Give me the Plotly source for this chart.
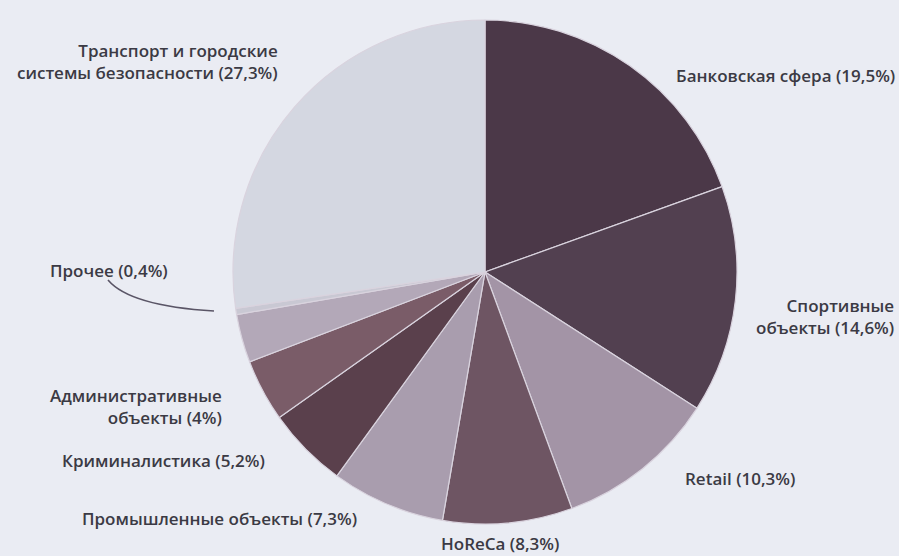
import plotly.graph_objects as go

W, H = 899, 556

# Data (clockwise from 12 o'clock)
categories = [
    "Банковская сфера",
    "Спортивные объекты",
    "Retail",
    "HoReCa",
    "Промышленные объекты",
    "Криминалистика",
    "Административные объекты",
    "Без подписи",
    "Прочее",
    "Транспорт и городские системы безопасности",
]
shares = [19.5, 14.6, 10.3, 8.3, 7.3, 5.2, 4.0, 3.1, 0.4, 27.3]
colors = ["#4b3848", "#524050", "#a394a6", "#6e5563", "#a99dae",
          "#5a404c", "#7a5c68", "#b3a8b8", "#c9c8d3", "#d4d7e1"]

label_texts = [
    "Банковская сфера (19,5%)",
    "Спортивные<br>объекты (14,6%)",
    "Retail (10,3%)",
    "HoReCa (8,3%)",
    "Промышленные объекты (7,3%)",
    "Криминалистика (5,2%)",
    "Административные<br>объекты (4%)",
    None,
    "Прочее (0,4%)",
    "Транспорт и городские<br>системы безопасности (27,3%)",
]
# label anchor positions in pixels (x, y, xanchor, align)
label_pos = [
    (674, 75, "left", "left"),
    (896, 316, "right", "right"),
    (683, 478, "left", "left"),
    (500, 543, "center", "center"),
    (80, 518, "left", "left"),
    (60, 460, "left", "left"),
    (224, 406, "right", "right"),
    None,
    (48, 270, "left", "left"),
    (280, 62, "right", "right"),
]

def px(x):
    return x / W

def py(y):
    return 1 - y / H

cx, cy, r = 485, 272, 252

fig = go.Figure(go.Pie(
    labels=categories,
    values=shares,
    sort=False,
    direction="clockwise",
    rotation=0,
    textinfo="none",
    marker=dict(colors=colors, line=dict(color="#d9d3de", width=1.2)),
    domain=dict(x=[px(cx - r), px(cx + r)], y=[py(cy + r), py(cy - r)]),
    showlegend=False,
))

font = dict(family="Open Sans, DejaVu Sans, sans-serif", size=17, color="#3b3a44", weight=600)
for txt, pos in zip(label_texts, label_pos):
    if txt is None:
        continue
    x, y, xa, al = pos
    fig.add_annotation(x=px(x), y=py(y), xref="paper", yref="paper",
                       text=txt, showarrow=False, xanchor=xa, yanchor="middle",
                       align=al, font=font)

# curved leader line for "Прочее"
fig.add_shape(type="path", xref="paper", yref="paper",
              path=f"M {px(108)},{py(280)} Q {px(130)},{py(306)} {px(214)},{py(311)}",
              line=dict(color="#5a5566", width=1.6))

fig.update_layout(
    width=W, height=H,
    margin=dict(l=0, r=0, t=0, b=0),
    paper_bgcolor="#eaecf3",
    plot_bgcolor="#eaecf3",
)

fig.write_html(
    "out.html",
    config={"displayModeBar": False},
    post_script="document.body.style.margin='0';document.body.style.overflow='hidden';document.body.style.background='#eaecf3';",
)
